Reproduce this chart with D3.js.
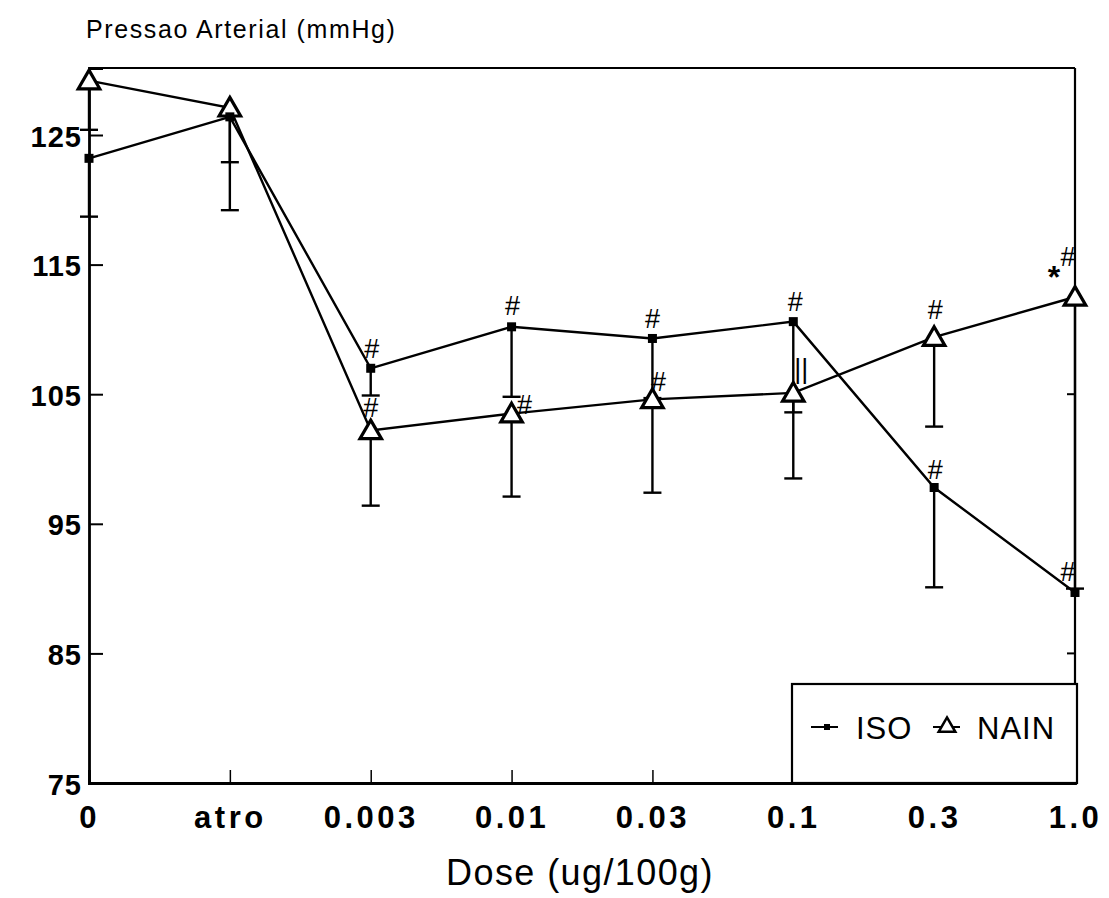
<!DOCTYPE html>
<html>
<head>
<meta charset="utf-8">
<script src="https://cdn.jsdelivr.net/npm/d3@7"></script>
<style>
  html, body { margin: 0; padding: 0; background: #fff; }
  svg { display: block; }
  text { font-family: "Liberation Sans", Arial, Helvetica, sans-serif; fill: #000; }
</style>
</head>
<body>
<svg id="chart" width="1109" height="898"></svg>
<script>
// Doses on the x axis (ordinal)
const doses = ["0", "atro", "0.003", "0.01", "0.03", "0.1", "0.3", "1.0"];

// Mean arterial pressure (mmHg) and SD, by dose
const isoMean  = [123.2, 126.4, 107.0, 110.2, 109.3, 110.6, 97.8, 89.7];
const isoSD    = [4.5, 3.5, 2.1, 5.4, 4.6, 7.0, 7.7, null];
const nainMean = [129.2, 127.1, 102.2, 103.5, 104.6, 105.1, 109.4, 112.5];
const nainSD   = [3.8, 7.9, 5.8, 6.4, 7.2, 6.6, 6.9, 22.5];

// Y axis ticks
const yTicks = [75, 85, 95, 105, 115, 125];

// Significance marks: series, dose, symbol
const marks = [
  ["ISO", "0.003", "#"], ["NAIN", "0.003", "#"],
  ["ISO", "0.01", "#"],  ["NAIN", "0.01", "#"],
  ["ISO", "0.03", "#"],  ["NAIN", "0.03", "#"],
  ["ISO", "0.1", "#"],   ["NAIN", "0.1", "||"],
  ["NAIN", "0.3", "#"],  ["ISO", "0.3", "#"],
  ["NAIN", "1.0", "#"],  ["NAIN", "1.0", "*"],
  ["ISO", "1.0", "#"]
];

const svg = d3.select("#chart");

const pl = 89, pr = 1075, pt = 68, pb = 783;

const x = d3.scalePoint().domain(doses).range([pl, pr]).padding(0);
const y = d3.scaleLinear().domain([75, 130.17]).range([pb, pt]);

// Frame
const frame = svg.append("g").attr("stroke", "#000").attr("fill", "none");
frame.append("line").attr("x1", pl).attr("x2", pr).attr("y1", pt).attr("y2", pt).attr("stroke-width", 2.2);
frame.append("line").attr("x1", pr).attr("x2", pr).attr("y1", pt).attr("y2", pb).attr("stroke-width", 2.2);

// Y axis
const yAxis = svg.append("g")
  .attr("transform", `translate(${pl},0)`)
  .call(d3.axisLeft(y).tickValues(yTicks).tickSize(-14).tickPadding(7).tickFormat(d3.format("d")));
yAxis.select(".domain").attr("stroke-width", 2.8);
yAxis.selectAll(".tick line").attr("stroke-width", 2);
yAxis.selectAll(".tick text")
  .attr("font-size", 29).attr("font-weight", "bold").attr("letter-spacing", 1).attr("dy", "0.38em");

// Right-side inner ticks
svg.append("g").selectAll("line").data([85, 105])
  .join("line")
  .attr("x1", pr - 8).attr("x2", pr).attr("y1", d => y(d)).attr("y2", d => y(d))
  .attr("stroke", "#000").attr("stroke-width", 2);

// X axis
const xAxis = svg.append("g")
  .attr("transform", `translate(0,${pb})`)
  .call(d3.axisBottom(x).tickSize(-13).tickPadding(17));
xAxis.select(".domain").attr("stroke-width", 2.8);
xAxis.selectAll(".tick line").attr("stroke-width", 1.5);
xAxis.selectAll(".tick text")
  .attr("font-size", 31).attr("font-weight", "bold").attr("letter-spacing", 3.5).attr("dy", "0.9em");

// Axis titles
svg.append("text").attr("x", 86).attr("y", 38).attr("font-size", 25).attr("letter-spacing", 1.6)
  .text("Pressao Arterial (mmHg)");
svg.append("text").attr("x", 580).attr("y", 885).attr("text-anchor", "middle")
  .attr("font-size", 36).attr("letter-spacing", 1.4).text("Dose (ug/100g)");

const series = [
  { name: "ISO", mean: isoMean, sd: isoSD },
  { name: "NAIN", mean: nainMean, sd: nainSD }
];

// Error bars (downward, SD)
const eb = svg.append("g").attr("stroke", "#000").attr("stroke-width", 2.4);
series.forEach(s => {
  doses.forEach((d, i) => {
    if (s.sd[i] == null) return;
    const cx = x(d), y0 = y(s.mean[i]), y1 = y(s.mean[i] - s.sd[i]);
    eb.append("line").attr("x1", cx).attr("x2", cx).attr("y1", y0).attr("y2", y1);
    eb.append("line").attr("x1", cx - 9).attr("x2", cx + 9).attr("y1", y1).attr("y2", y1);
  });
});

// Lines
const line = d3.line().x((v, i) => x(doses[i])).y(v => y(v));
series.forEach(s => {
  svg.append("path").datum(s.mean).attr("d", line)
    .attr("fill", "none").attr("stroke", "#000").attr("stroke-width", 2.4);
});

// Markers
const tri = d3.symbol().type(d3.symbolTriangle).size(200);
svg.append("g").selectAll("path").data(nainMean).join("path")
  .attr("d", tri)
  .attr("transform", (v, i) => `translate(${x(doses[i])},${y(v) + 2})`)
  .attr("fill", "#fff").attr("stroke", "#000").attr("stroke-width", 3.2);
svg.append("g").selectAll("rect").data(isoMean).join("rect")
  .attr("x", (v, i) => x(doses[i]) - 4.5).attr("y", v => y(v) - 4.5)
  .attr("width", 9).attr("height", 9).attr("fill", "#000");

// Significance marks
const offsets = {
  "ISO|0.003|#": [1, -19], "NAIN|0.003|#": [0, -22],
  "ISO|0.01|#": [1, -21],  "NAIN|0.01|#": [13, -9],
  "ISO|0.03|#": [0, -19],  "NAIN|0.03|#": [6, -17],
  "ISO|0.1|#": [2, -20],   "NAIN|0.1|||": [8, -24],
  "NAIN|0.3|#": [1, -27],  "ISO|0.3|#": [1, -18],
  "NAIN|1.0|#": [-7, -40], "NAIN|1.0|*": [-21, -20],
  "ISO|1.0|#": [-7, -20]
};
svg.append("g").selectAll("text").data(marks).join("text")
  .attr("x", m => x(m[1]) + offsets[m.join("|")][0])
  .attr("y", m => {
    const s = m[0] === "ISO" ? isoMean : nainMean;
    return y(s[doses.indexOf(m[1])]) + offsets[m.join("|")][1];
  })
  .attr("text-anchor", "middle").attr("dominant-baseline", "central")
  .attr("font-size", m => m[2] === "*" ? 32 : 27)
  .attr("font-weight", m => m[2] === "*" ? "bold" : "normal")
  .text(m => m[2]);

// Legend
const lg = svg.append("g");
lg.append("rect").attr("x", 792).attr("y", 684).attr("width", pr + 2 - 792).attr("height", pb - 684)
  .attr("fill", "#fff").attr("stroke", "#000").attr("stroke-width", 2.2);
lg.append("line").attr("x1", 811).attr("x2", 838).attr("y1", 727).attr("y2", 727)
  .attr("stroke", "#000").attr("stroke-width", 2);
lg.append("rect").attr("x", 824).attr("y", 724).attr("width", 6).attr("height", 6).attr("fill", "#000");
lg.append("text").attr("x", 856).attr("y", 739).attr("font-size", 31).attr("letter-spacing", 1).text("ISO");
lg.append("line").attr("x1", 933).attr("x2", 960).attr("y1", 727).attr("y2", 727)
  .attr("stroke", "#000").attr("stroke-width", 2);
lg.append("path").attr("d", d3.symbol().type(d3.symbolTriangle).size(120))
  .attr("transform", "translate(947,727)")
  .attr("fill", "#fff").attr("stroke", "#000").attr("stroke-width", 2.5);
lg.append("text").attr("x", 977).attr("y", 739).attr("font-size", 31).attr("letter-spacing", 1).text("NAIN");
</script>
</body>
</html>
